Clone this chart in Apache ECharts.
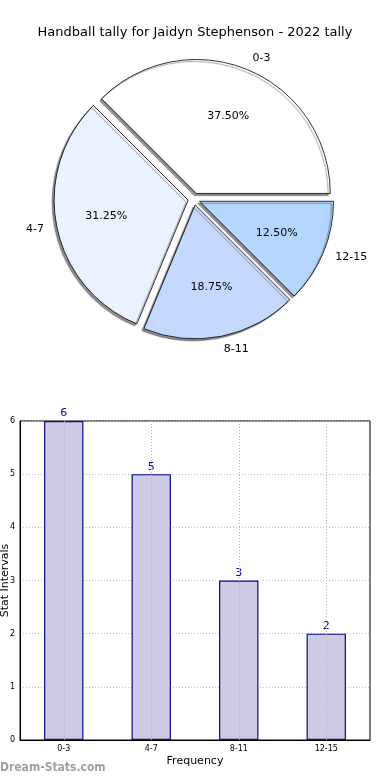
<!DOCTYPE html>
<html>
<head>
<meta charset="utf-8">
<script src="https://cdn.jsdelivr.net/npm/echarts@6/dist/echarts.min.js"></script>
<style>
html,body{margin:0;padding:0;background:#fff;}
#c{width:390px;height:780px;}
</style>
</head>
<body>
<div id="c"></div>
<script>
var titleText = 'Handball tally for Jaidyn Stephenson - 2022 tally';
var categories = ['0-3', '4-7', '8-11', '12-15'];
var counts = [6, 5, 3, 2];
var pieColors = ['#ffffff', '#eaf1ff', '#c5d8ff', '#b3d5ff'];
var yTicks = [0, 1, 2, 3, 4, 5, 6];
var xAxisName = 'Frequency';
var yAxisName = 'Stat Intervals';
var watermark = 'Dream-Stats.com';

var FONT = 'DejaVu Sans';
var chart = echarts.init(document.getElementById('c'), null, {renderer: 'canvas'});

var pieData = categories.map(function (c, i) {
  return {name: c, value: counts[i], selected: true, itemStyle: {color: pieColors[i]}};
});
var pctData = categories.map(function (c, i) {
  return {name: c, value: counts[i], selected: true};
});

var option = {
  animation: false,
  textStyle: {fontFamily: FONT},
  title: {
    text: titleText, left: 'center', top: 21,
    textStyle: {fontFamily: FONT, fontSize: 13, fontWeight: 'normal', color: '#000'}
  },
  graphic: [{
    type: 'text', left: 0, top: 762,
    style: {text: watermark, font: 'bold 12px "DejaVu Sans Condensed"', fill: '#a0a0a0'}
  }],
  grid: {
    left: 20, right: 20, top: 421, bottom: 40,
    outerBoundsMode: 'none', containLabel: false,
    show: true, borderColor: '#000', borderWidth: 1, backgroundColor: 'transparent'
  },
  xAxis: {
    type: 'category', data: categories,
    name: xAxisName, nameLocation: 'middle', nameGap: 16,
    nameMoveOverlap: false,
    nameTextStyle: {fontFamily: FONT, fontSize: 11, color: '#000'},
    axisLine: {show: true, lineStyle: {color: '#000', width: 1}},
    axisTick: {show: false},
    axisLabel: {fontFamily: FONT, fontSize: 8, color: '#000', margin: 5},
    splitLine: {show: false}
  },
  yAxis: {
    type: 'value', min: yTicks[0], max: yTicks[yTicks.length - 1], interval: 1,
    name: yAxisName, nameLocation: 'middle', nameGap: 9, nameRotate: 90,
    nameMoveOverlap: false,
    nameTextStyle: {fontFamily: FONT, fontSize: 11, color: '#000'},
    axisLine: {show: true, lineStyle: {color: '#000', width: 1}},
    axisTick: {show: false},
    axisLabel: {fontFamily: FONT, fontSize: 8, color: '#000', margin: 5},
    splitLine: {show: true, lineStyle: {color: '#bdbdbd', type: [1, 2], width: 1}}
  },
  series: [
    {
      type: 'pie', silent: true,
      center: [194, 199], radius: [0, 134],
      startAngle: 0, clockwise: false,
      selectedMode: 'multiple', selectedOffset: 6,
      avoidLabelOverlap: false,
      itemStyle: {
        borderColor: '#000', borderWidth: 0.8,
        shadowColor: 'rgba(0,0,0,0.45)', shadowOffsetX: -2, shadowOffsetY: 2, shadowBlur: 1
      },
      label: {
        show: true, position: 'outside', formatter: '{b}',
        fontFamily: FONT, fontSize: 11, color: '#000', distanceToLabelLine: 0
      },
      labelLine: {show: false, length: 13, length2: 0},
      emphasis: {disabled: true},
      data: pieData
    },
    {
      type: 'pie', silent: true,
      center: [194, 199], radius: [27, 134],
      startAngle: 0, clockwise: false,
      selectedMode: 'multiple', selectedOffset: 6,
      itemStyle: {color: 'rgba(0,0,0,0)', borderWidth: 0},
      label: {
        show: true, position: 'inside',
        formatter: function (p) { return p.percent.toFixed(2) + '%'; },
        fontFamily: FONT, fontSize: 11, color: '#000'
      },
      labelLine: {show: false},
      emphasis: {disabled: true},
      data: pctData
    },
    {
      type: 'bar', silent: true,
      data: counts, barWidth: '45%',
      itemStyle: {color: '#cccce5', borderColor: '#0a0a8c', borderWidth: 1.2},
      label: {show: true, position: 'top', distance: 2, fontFamily: FONT, fontSize: 11, color: '#0a0a8c'},
      markLine: {
        silent: true, symbol: 'none', label: {show: false},
        lineStyle: {color: '#b0b0b0', type: [1, 2], width: 1},
        data: categories.map(function (c) { return {xAxis: c}; })
      }
    }
  ]
};
chart.setOption(option);
</script>
</body>
</html>
